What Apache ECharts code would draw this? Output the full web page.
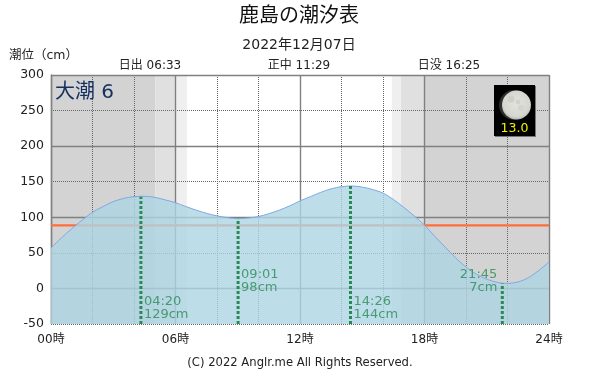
<!DOCTYPE html>
<html><head><meta charset="utf-8">
<style>html,body{margin:0;padding:0;background:#fff}#c{width:600px;height:375px}</style>
<script src="https://cdn.jsdelivr.net/npm/echarts@6/dist/echarts.min.js"></script>
</head><body><div id="c"></div>
<script>
var FONT = '"DejaVu Sans","Noto Sans CJK JP",sans-serif';
var hours = [0,0.5,1,1.5,2,2.5,3,3.5,4,4.5,5,5.5,6,6.5,7,7.5,8,8.5,9,9.5,10,10.5,11,11.5,12,12.5,13,13.5,14,14.5,15,15.5,16,16.5,17,17.5,18,18.5,19,19.5,20,20.5,21,21.5,22,22.5,23,23.5,24];
var tide  = [57,71,84,96,107,115,122,126.5,129,129.5,128,124.5,120.5,115,110,105.5,102,99.5,98,99,101,105,110,116,123,129,135,140,143,144,142.5,139,134,125,114,102,89,73,58,43,30,20,13,8.5,7,9,15,25,37];
var highLow = [[4.333,129,'04:20','129cm'],[9.017,98,'09:01','98cm'],[14.433,144,'14:26','144cm'],[21.75,7,'21:45','7cm']];
var labelLevels = [-27,10,-27,10];
var refLevel = 88.7;
var majorLevels = [0,100,200,300];
var bands = [[0,5.03,'#d3d3d3'],[5.03,6,'#e0e0e0'],[6,6.55,'#efefef'],[16.42,16.87,'#efefef'],[16.87,18,'#e0e0e0'],[18,24,'#d3d3d3']];
var title = '鹿島の潮汐表', subtitle = '2022年12月07日', yName = '潮位（cm）';
var sunTexts = ['日出 06:33','正中 11:29','日没 16:25'];
var tideName = '大潮 6', moonAge = '13.0', copyright = '(C) 2022 Anglr.me All Rights Reserved.';

var GREEN = '#2a8a55', GRID = '#808080';
function txt(x,y,s,size,align,color,z){
  return {type:'text',x:x,y:y,z:z||50,silent:true,style:{text:s,font:size+'px '+FONT,fill:color||'#222',align:align||'left',verticalAlign:'middle'}};
}
var graphic = [
  txt(299,17,title,20,'center','#111'),
  txt(299,45.5,subtitle,14,'center'),
  txt(9,56,yName,12.5,'left'),
  txt(150,66,sunTexts[0],12,'center'),
  txt(299,66,sunTexts[1],12,'center'),
  txt(449,66,sunTexts[2],12,'center'),
  txt(300,363,copyright,11.6,'center'),
  txt(55,93,tideName,20,'left','#14305f'),
  {type:'rect',z:50,silent:true,shape:{x:495,y:86,width:41,height:51},style:{fill:'#777'}},
  {type:'rect',z:51,silent:true,shape:{x:494,y:85,width:41,height:51},style:{fill:'#000'}},
  {type:'circle',z:52,silent:true,shape:{cx:514,cy:105,r:15},style:{fill:'#2e2e2c'}},
  {type:'circle',z:53,silent:true,shape:{cx:516.5,cy:105,r:14.5},style:{fill:{type:'radial',x:0.5,y:0.45,r:0.6,colorStops:[{offset:0,color:'#e4e4de'},{offset:0.75,color:'#d6d6d0'},{offset:1,color:'#a8a8a2'}]}}},
  {type:'circle',z:54,silent:true,shape:{cx:511,cy:99,r:3.5},style:{fill:'#cfcfc9'}},
  {type:'circle',z:54,silent:true,shape:{cx:518,cy:102,r:2.5},style:{fill:'#d2d2cc'}},
  {type:'circle',z:54,silent:true,shape:{cx:521,cy:108,r:3},style:{fill:'#d4d4ce'}},
  txt(514.5,128.5,moonAge,12.5,'center','#f0f000',60)
];
var c = echarts.init(document.getElementById('c'),null,{renderer:'canvas'});
var series = [];
series.push({type:'line',z:-1,data:[],silent:true,
  markArea:{silent:true,z:-1,label:{show:false},data:bands.map(function(b){return [{xAxis:b[0],itemStyle:{color:b[2],opacity:1}},{xAxis:b[1]}];})}});
series.push({type:'line',z:3,data:[],silent:true,
  markLine:{silent:true,z:2,symbol:'none',animation:false,label:{show:false},lineStyle:{color:GRID,width:1.4,type:'solid'},data:majorLevels.map(function(v){return {yAxis:v};})}});
series.push({type:'line',z:3,data:[[0,refLevel],[24,refLevel]],symbol:'none',silent:true,lineStyle:{color:'#ff6e3a',width:2.2}});
series.push({type:'line',z:5,smooth:0.3,symbol:'none',silent:true,data:hours.map(function(h,i){return [h,tide[i]];}),
  lineStyle:{color:'#7ea8e6',width:1},areaStyle:{color:'rgb(172,214,228)',opacity:0.8,origin:'start'}});
highLow.forEach(function(h,i){
  series.push({type:'line',z:6,symbol:'none',silent:true,data:[[h[0],-50],[h[0],h[1]]],lineStyle:{color:GREEN,width:3,type:[3,2]}});
  series.push({type:'scatter',z:7,silent:true,symbolSize:0,data:[[h[0],labelLevels[i]]],
    label:{show:true,position:i===3?'left':'right',distance:i===3?5:3,formatter:h[2]+'\n'+h[3],align:i===3?'right':'left',
      color:GREEN,fontSize:13,lineHeight:13,fontFamily:FONT}});
});
var DOT = {color:'#666',width:1,type:[1,1]};
c.setOption({
  animation:false,
  backgroundColor:'#fff',
  grid:{left:51,right:51,top:75,bottom:51,show:false},
  graphic:graphic,
  xAxis:[{type:'value',min:0,max:24,interval:6,z:1,
    axisLine:{show:false},axisTick:{show:false},
    axisLabel:{color:'#222',fontSize:12,fontFamily:FONT,margin:10,showMinLabel:true,showMaxLabel:true,
      formatter:function(v){return (v<10?'0':'')+v+'時';}},
    splitLine:{show:true,lineStyle:{color:GRID,width:1.4,type:'solid'}}},
   {type:'value',min:0,max:24,interval:2,z:0,position:'bottom',
    axisLine:{show:false},axisTick:{show:false},axisLabel:{show:false},
    splitLine:{show:true,lineStyle:DOT}}],
  yAxis:{type:'value',min:-50,max:300,interval:50,
    axisLine:{show:true,onZero:false,lineStyle:{color:GRID,width:1.4}},axisTick:{show:false},
    axisLabel:{color:'#222',fontSize:12.5,fontFamily:FONT,margin:7,padding:[4,0,0,0]},
    splitLine:{show:true,lineStyle:DOT}},
  series:series
});
</script></body></html>
